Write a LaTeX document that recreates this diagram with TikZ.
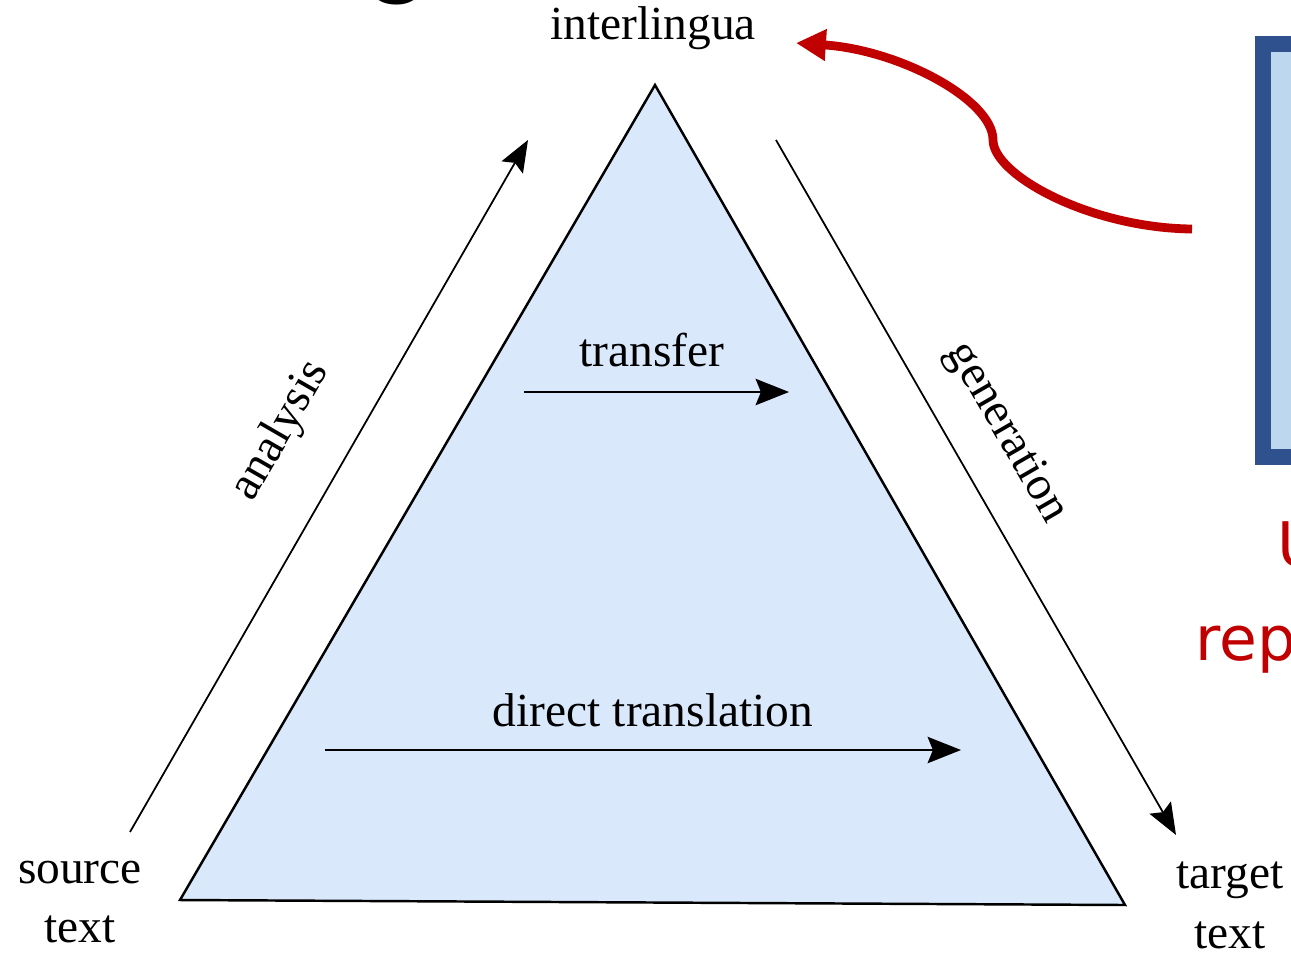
\documentclass[tikz,border=0pt]{standalone}
\usepackage{fontspec}
\setmainfont{Liberation Serif}
\newfontfamily\notefont{DejaVu Sans}
\newfontfamily\titlefont{Carlito}
\usetikzlibrary{arrows.meta, calc}

\definecolor{triblue}{HTML}{DAE8FC}
\definecolor{notered}{RGB}{192,0,0}
\definecolor{boxblue}{RGB}{47,82,143}
\definecolor{boxfill}{RGB}{189,215,238}

\tikzstyle{word} = [font=\fontsize{27}{34}\selectfont, text centered, inner sep=0pt]
\tikzstyle{tri} = [draw=black, line width=1.4pt, fill=triblue, line join=miter]
\tikzstyle{arrow} = [line width=1.2pt, -{Stealth[length=19pt, width=15pt, inset=3pt]}]
\tikzstyle{thinarrow} = [line width=1pt, -{Stealth[length=18pt, width=14pt, inset=3pt]}]
\tikzstyle{redarrow} = [line width=5pt, draw=notered, -{Triangle[length=17pt, width=17pt]}]
\tikzstyle{infobox} = [draw=boxblue, line width=9pt, fill=boxfill]
\tikzstyle{note} = [font=\notefont\fontsize{35}{42}\selectfont, text=notered, inner sep=0pt]

\begin{document}
\begin{tikzpicture}[x=0.02cm, y=-0.02cm]

        % \draw[help lines] (0,0) grid[step=50] (1291,954);
        \useasboundingbox (0,0) rectangle (1291,954);
        \clip (0,0) rectangle (1291,954);

        % what is left of the slide title
        \node (title) [anchor=base, inner sep=0pt, font=\titlefont\fontsize{68}{80}\selectfont] at (398,-16) {g};

        \coordinate (top) at (655,85);
        \coordinate (left) at (180,900);
        \coordinate (right) at (1125,905);
        \draw [tri] (left) -- (top) -- (right) -- cycle;

        \node (IL) [word] at (653,28) {interlingua};
        \node (ST) [word, align=center] at (80,902) {source\\ text};
        \node (TT) [word, align=center] at (1230,905) {target\\ text};

        % analysis / generation
        \coordinate (A1) at (130,832);
        \coordinate (A2) at (528,140);
        \draw [thinarrow] (A1) -- (A2);
        \node (AN) [word, rotate=60] at (281,431) {analysis};

        \coordinate (G1) at (776,140);
        \coordinate (G2) at (1176,835);
        \draw [thinarrow] (G1) -- (G2);
        \node (GE) [word, rotate=-60] at (1006,433) {generation};

        % transfer
        \node (TR) [word] at (652,350) {transfer};
        \coordinate (T1) at (524,392);
        \coordinate (T2) at (789,392);
        \draw [arrow] (T1) -- (T2);

        % direct translation
        \node (DT) [word] at (653,710) {direct translation};
        \coordinate (D1) at (325,750);
        \coordinate (D2) at (961,750);
        \draw [arrow] (D1) -- (D2);

        % box and red note on the right
        \node (box) [infobox, minimum width=3.14cm, minimum height=8.26cm] at (1341.5,250.5) {};
        \node (U) [note, anchor=base west] at (1277,566) {U};
        \node (rep) [note, anchor=base west] at (1195,660) {rep};

        \coordinate (R1) at (1192,229);
        \coordinate (R2) at (993,140);
        \coordinate (R3) at (796,43);
        \draw [redarrow] (R1) .. controls (1090,228) and (993,175) .. (R2)
                         .. controls (993,100) and (900,50) .. (R3);

\end{tikzpicture}
\end{document}
